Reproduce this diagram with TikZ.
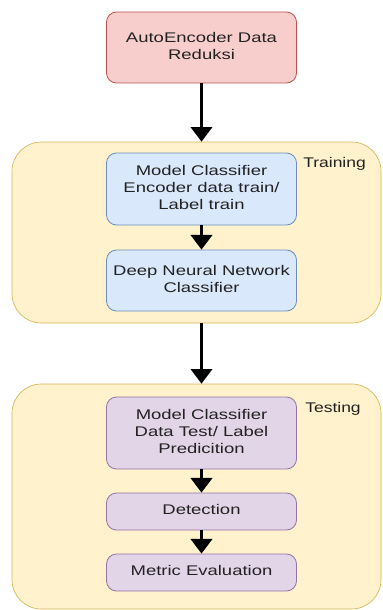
\documentclass[tikz,border=0pt]{standalone}
\usepackage{fontspec}
\setmainfont{Liberation Sans}
\usepackage{graphicx}
\usepackage{xcolor}
\usetikzlibrary{arrows.meta}

\definecolor{redfill}{HTML}{F8CECC}
\definecolor{redline}{HTML}{B85450}
\definecolor{yellowfill}{HTML}{FFF2CC}
\definecolor{yellowline}{HTML}{D6B656}
\definecolor{bluefill}{HTML}{DAE8FC}
\definecolor{blueline}{HTML}{6C8EBF}
\definecolor{purplefill}{HTML}{E1D5E7}
\definecolor{purpleline}{HTML}{9673A6}
\definecolor{inktext}{HTML}{222222}

% wide sans text, one or more lines
\newcommand{\wtext}[2][1.32]{\scalebox{#1}[1]{\begin{tabular}{@{}c@{}}#2\end{tabular}}}

\begin{document}
\begin{tikzpicture}[x=0.75pt,y=0.75pt,yscale=-1,xscale=1,
  box/.style={draw, rounded corners=7.5pt, line width=0.6pt, minimum width=142.5pt,
    inner sep=0pt, text=inktext, font=\fontsize{10.5}{12.75}\selectfont},
  group/.style={draw=yellowline, fill=yellowfill, rounded corners=22pt, line width=0.5pt,
    minimum width=276.75pt, inner sep=0pt},
  flow/.style={line width=2.25pt, -{Triangle[width=16pt,length=11pt]}},
  tag/.style={anchor=west, inner sep=0pt, text=inktext, font=\fontsize{10.5}{12.75}\selectfont}]
\useasboundingbox (0,0) rectangle (382,610);

%Shape: Group containers
\node (train) [group, minimum height=135.75pt] at (196.5,232.5) {};
\node (test) [group, minimum height=168.75pt] at (196.5,496.5) {};

%Shape: Rectangles
\node (ae) [box, draw=redline, fill=redfill, minimum height=53.25pt] at (201.5,47.5) {\wtext{AutoEncoder Data\\Reduksi}};
\node (enc) [box, draw=blueline, fill=bluefill, minimum height=54pt] at (201.5,189) {\wtext{Model Classifier\\Encoder data train/\\Label train}};
\node (dnn) [box, draw=blueline, fill=bluefill, minimum height=45.75pt] at (201.5,280.5) {\wtext{Deep Neural Network\\Classifier}};
\node (pred) [box, draw=purpleline, fill=purplefill, minimum height=54pt] at (201.5,433) {\wtext{Model Classifier\\Data Test/ Label\\Predicition}};
\node (det) [box, draw=purpleline, fill=purplefill, minimum height=27.75pt] at (201.5,511.5) {\wtext{Detection}};
\node (metric) [box, draw=purpleline, fill=purplefill, minimum height=27.75pt] at (201.5,572.5) {\wtext{Metric Evaluation}};

% Text Node
\node (traintag) [tag] at (303,164) {\wtext[1.25]{Training}};
% Text Node
\node (testtag) [tag] at (305,409) {\wtext[1.25]{Testing}};

%Straight Lines
\draw [flow] (ae) -- (ae |- train.north);
\draw [flow] (enc) -- (dnn);
\draw [flow] (ae |- train.south) -- (ae |- test.north);
\draw [flow] (pred) -- (det);
\draw [flow] (det) -- (metric);

\end{tikzpicture}
\end{document}
